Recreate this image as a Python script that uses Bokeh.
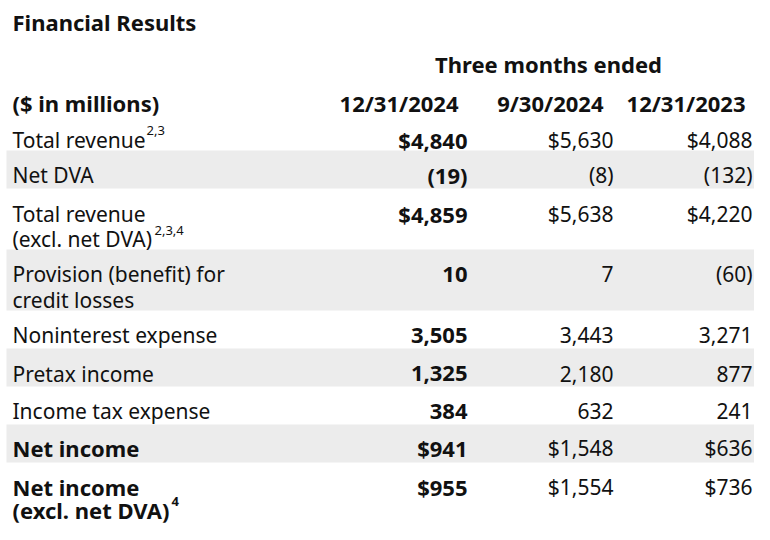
from bokeh.plotting import figure
from bokeh.models import Range1d
from bokeh.core.properties import value
from bokeh.embed import file_html
from bokeh.resources import INLINE

# ---------------- data ----------------
title = "Financial Results"
group_header = "Three months ended"
unit_label = "($ in millions)"
periods = ["12/31/2024", "9/30/2024", "12/31/2023"]

row_labels = [
    ["Total revenue"],
    ["Net DVA"],
    ["Total revenue", "(excl. net DVA)"],
    ["Provision (benefit) for", "credit losses"],
    ["Noninterest expense"],
    ["Pretax income"],
    ["Income tax expense"],
    ["Net income"],
    ["Net income", "(excl. net DVA)"],
]
row_footnotes = ["2,3", "", "2,3,4", "", "", "", "", "", "4"]
bold_rows = [7, 8]
dollar_rows = [0, 2, 7, 8]

q4_2024 = [4840, -19, 4859, 10, 3505, 1325, 384, 941, 955]
q3_2024 = [5630, -8, 5638, 7, 3443, 2180, 632, 1548, 1554]
q4_2023 = [4088, -132, 4220, -60, 3271, 877, 241, 636, 736]
series = [q4_2024, q3_2024, q4_2023]


def fmt(v, dollar):
    s = f"{abs(v):,}"
    if dollar:
        s = "$" + s
    if v < 0:
        s = "(" + s + ")"
    return s


# ---------------- layout ----------------
W, H = 754, 524
FONT = value("Noto Sans")
FS = "21px"
FS_B = "22px"
SUP_FS = "13px"
INK = "#111111"
BAND = "#ececec"

label_x = 12
band_left = 6
val_right = [467, 613, 752]
head_right = [458, 603, 745]
group_center = 548
title_y = 21
group_y = 63
header_y = 102
first_top = 112
single_h = 38
double_h = 61
base_off = [27, 24.5, 25.5, 24.5, 24.5, 25, 24.5, 23.5, 24.5]
line_gap = [0, 0, 25, 25.5, 0, 0, 0, 0, 23]
sup_x = {0: 146, 2: 154, 8: 171}
sup_rise = 9

p = figure(width=W, height=H, output_backend="svg", toolbar_location=None,
           x_range=Range1d(0, W), y_range=Range1d(H, 0),
           x_axis_location=None, y_axis_location=None,
           min_border=0, outline_line_color=None,
           background_fill_color="white", border_fill_color="white")
p.grid.visible = False

# row geometry
tops, bottoms = [], []
t = first_top
for lines in row_labels:
    h = single_h if len(lines) == 1 else double_h
    tops.append(t)
    bottoms.append(t + h)
    t += h

# shaded bands on alternate rows
band_idx = [i for i in range(len(row_labels)) if i % 2 == 1]
p.quad(left=[band_left] * len(band_idx), right=[W + 10] * len(band_idx),
       top=[tops[i] for i in band_idx], bottom=[bottoms[i] for i in band_idx],
       fill_color=BAND, line_color=None)


def txt(xs, ys, texts, align="left", bold=False, size=None):
    if size is None:
        size = FS_B if bold else FS
    p.text(x=xs, y=ys, text=texts, text_font=FONT, text_font_size=size,
           text_font_style="bold" if bold else "normal", text_color=INK,
           text_align=align, text_baseline="alphabetic")


# title and headers
txt([label_x], [title_y], [title], bold=True)
txt([group_center], [group_y], [group_header], align="center", bold=True)
txt([label_x], [header_y], [unit_label], bold=True)
txt(head_right, [header_y] * 3, periods, align="right", bold=True)

# row labels with footnote marks
baselines = [tops[i] + base_off[i] for i in range(len(row_labels))]
for i, lines in enumerate(row_labels):
    ys = [baselines[i] + k * line_gap[i] for k in range(len(lines))]
    txt([label_x] * len(lines), ys, lines, bold=(i in bold_rows))
    if row_footnotes[i]:
        txt([sup_x[i]], [ys[-1] - sup_rise], [row_footnotes[i]],
            bold=(i in bold_rows), size=SUP_FS)

# values: latest quarter in bold, the others regular
for c, vals in enumerate(series):
    xs = [val_right[c]] * len(vals)
    ts = [fmt(v, i in dollar_rows) for i, v in enumerate(vals)]
    txt(xs, baselines, ts, align="right", bold=(c == 0))

open("out.html", "w").write(file_html(p, INLINE))
